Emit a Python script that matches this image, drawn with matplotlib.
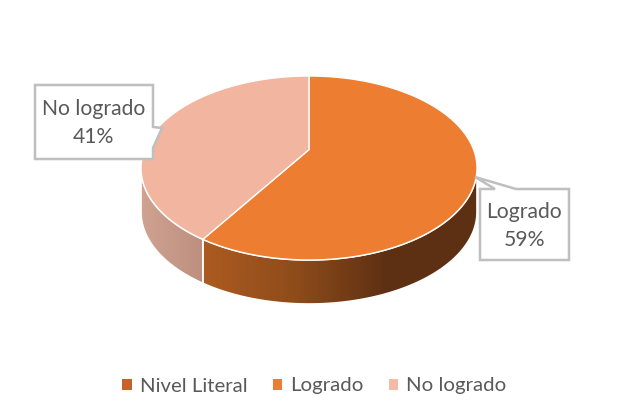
import numpy as np
import matplotlib
matplotlib.use('Agg')
import matplotlib.pyplot as plt
from matplotlib.patches import Polygon, Patch
from matplotlib.colors import LinearSegmentedColormap

#data
categories = ['Logrado', 'No logrado']
values = [59, 41]
legend_labels = ['Nivel Literal', 'Logrado', 'No logrado']

#settings
top_colors = ['#ED7D31', '#F2B5A0']
legend_colors = ['#C5622A', '#ED7D31', '#F4B9A7']
wall_colors = [['#AD5B20', '#8E4C1B', '#5E3013', '#5E3013'], ['#CFA291', '#BE8F7E']]
text_color = '#595959'
box_color = '#BFBFBF'
font = 'Lato'

#pie geometry in pixels
cx, cy, rx, ry = 309., 168., 168., 92.
depth = 44.
tilt = 0.2


def rim(angle):
    # clockwise from top, projected so the centre sits behind the ellipse centre
    x, y = np.sin(angle), np.cos(angle)
    d = 1 + tilt*y
    xp = x*np.sqrt(1 - tilt**2)/d
    yp = (y + tilt)/d
    return cx + rx*xp, cy - ry*yp


f = plt.figure(figsize=(6.21, 4.18), dpi=100)
ax = f.add_axes([0, 0, 1, 1])
ax.axis('off')

apex = (cx, cy - ry*tilt)
edges = np.concatenate([[0], np.cumsum(values)])/np.sum(values)*2*np.pi

for i in range(len(values)):
    t = np.linspace(edges[i], edges[i+1], 300)
    x, y = rim(t)
    # walls only on the front half
    front = y >= cy
    xf, yf = x[front], y[front]
    order = np.argsort(xf)
    xf, yf = xf[order], yf[order]
    wall = np.column_stack([np.r_[xf, xf[::-1]], np.r_[yf, yf[::-1] + depth]])
    patch = Polygon(wall, closed=True, fc='none', ec='white', lw=1.2, zorder=2)
    ax.add_patch(patch)
    cmap = LinearSegmentedColormap.from_list('wall', wall_colors[i])
    grad = np.linspace(0, 1, 256).reshape(1, -1)
    im = ax.imshow(grad, cmap=cmap, aspect='auto', zorder=1,
                   extent=[xf.min(), xf.max(), yf.max() + depth, yf.min()])
    im.set_clip_path(patch)
    top = np.column_stack([np.r_[apex[0], x], np.r_[apex[1], y]])
    ax.add_patch(Polygon(top, closed=True, fc=top_colors[i], ec='white', lw=1.0, zorder=3))

ax.set_xlim(0, 621)
ax.set_ylim(418, 0)

#callouts
box_right = [(480, 189), (495, 189), (475, 177), (516, 189), (569, 189), (569, 260), (480, 260)]
box_left = [(35, 85), (153, 85), (153, 127), (162, 128), (153, 148), (153, 159), (35, 159)]
ax.add_patch(Polygon(box_right, closed=True, fc='white', ec=box_color, lw=1.8, zorder=4))
ax.add_patch(Polygon(box_left, closed=True, fc='white', ec=box_color, lw=1.8, zorder=4))
ax.text(524.5, 226, '%s\n%d%%' % (categories[0], values[0]), ha='center', va='center',
        color=text_color, fontsize=15.2, family=font, linespacing=1.55, zorder=5)
ax.text(93.5, 123, '%s\n%d%%' % (categories[1], values[1]), ha='center', va='center',
        color=text_color, fontsize=15.2, family=font, linespacing=1.55, zorder=5)

#legend
handles = [Patch(fc=c, ec='none') for c in legend_colors]
f.legend(handles, legend_labels, loc='center', bbox_to_anchor=(314.5/621, 1 - 386/418), ncol=3,
         frameon=False, handlelength=0.45, handleheight=0.45, handletextpad=0.4, columnspacing=1.25,
         prop={'family': font, 'size': 14.7}, labelcolor=text_color)

f.savefig('out.png', dpi=100)
